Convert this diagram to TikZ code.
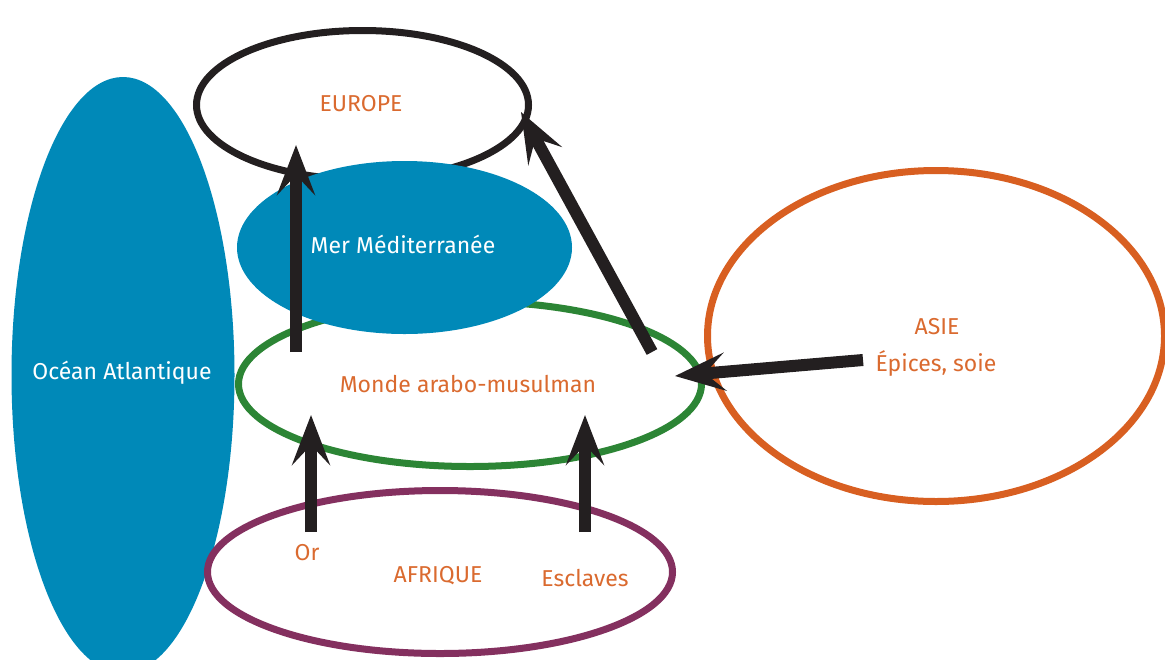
\documentclass[tikz,border=0pt]{standalone}
\usepackage{fontspec}
\setmainfont{Fira Sans}
\usetikzlibrary{shapes.geometric,arrows.meta}
\definecolor{seablue}{HTML}{0089B8}
\definecolor{txtorange}{HTML}{DA6A2F}
\definecolor{asieorange}{HTML}{D85F21}
\definecolor{mondegreen}{HTML}{2C8535}
\definecolor{afpurple}{HTML}{84305F}
\definecolor{arrowblack}{HTML}{231F20}
\begin{document}
\begin{tikzpicture}[x=0.5pt,y=-0.5pt,
  lab/.style={font=\fontsize{11.5pt}{13pt}\selectfont, text=txtorange, inner sep=0pt},
  wlab/.style={font=\fontsize{11.5pt}{13pt}\selectfont, text=white, inner sep=0pt},
  region/.style={ellipse, inner sep=0pt, line width=3.5pt},
  bigarrow/.style={draw=arrowblack, line width=6pt,
    -{Stealth[length=25pt,width=19pt,inset=10pt]}}]
\useasboundingbox (0,0) rectangle (1165,659);
\clip (0,0) rectangle (1165,659);
% Ocean
\node[region, fill=seablue, minimum width=111.5pt, minimum height=298pt] (ocean) at (123,375) {};
\node[wlab] (oceantxt) at (122,373) {Océan Atlantique};
% Europe
\node[region, draw=arrowblack, minimum width=166pt, minimum height=74.5pt] (europe) at (362.5,105) {};
\node[lab] (europetxt) at (361,104) {EUROPE};
% Monde arabo-musulman
\node[region, draw=mondegreen, minimum width=231.5pt, minimum height=82.5pt] (monde) at (470,384) {};
% Mediterranean
\node[region, fill=seablue, minimum width=167.5pt, minimum height=86.5pt] (med) at (404.5,247.5) {};
\node[wlab] (medtxt) at (403,244) {Mer Méditerranée};
\node[lab] (mondetxt) at (468,384) {Monde arabo-musulman};
% Asie
\node[region, draw=asieorange, minimum width=228.5pt, minimum height=165.5pt] (asie) at (936,336) {};
\node[lab] (asietxt) at (937,327) {ASIE};
\node[lab] (epices) at (936,363) {Épices, soie};
% Afrique
\node[region, draw=afpurple, minimum width=232.5pt, minimum height=81.5pt] (afrique) at (440,572) {};
\node[lab] (afriquetxt) at (438,576) {AFRIQUE};
\node[lab] (or) at (307,553) {Or};
\node[lab] (esclaves) at (585,578) {Esclaves};
% arrow end points
\coordinate (a1s) at (296,352); \coordinate (a1e) at (296,145);
\coordinate (a2s) at (652,352); \coordinate (a2e) at (521,112);
\coordinate (a3s) at (863,360); \coordinate (a3e) at (675,376);
\coordinate (a4s) at (311,532); \coordinate (a4e) at (311,415);
\coordinate (a5s) at (585,532); \coordinate (a5e) at (585,415);
\draw[bigarrow] (a1s) -- (a1e);
\draw[bigarrow] (a2s) -- (a2e);
\draw[bigarrow] (a3s) -- (a3e);
\draw[bigarrow] (a4s) -- (a4e);
\draw[bigarrow] (a5s) -- (a5e);
\end{tikzpicture}
\end{document}
